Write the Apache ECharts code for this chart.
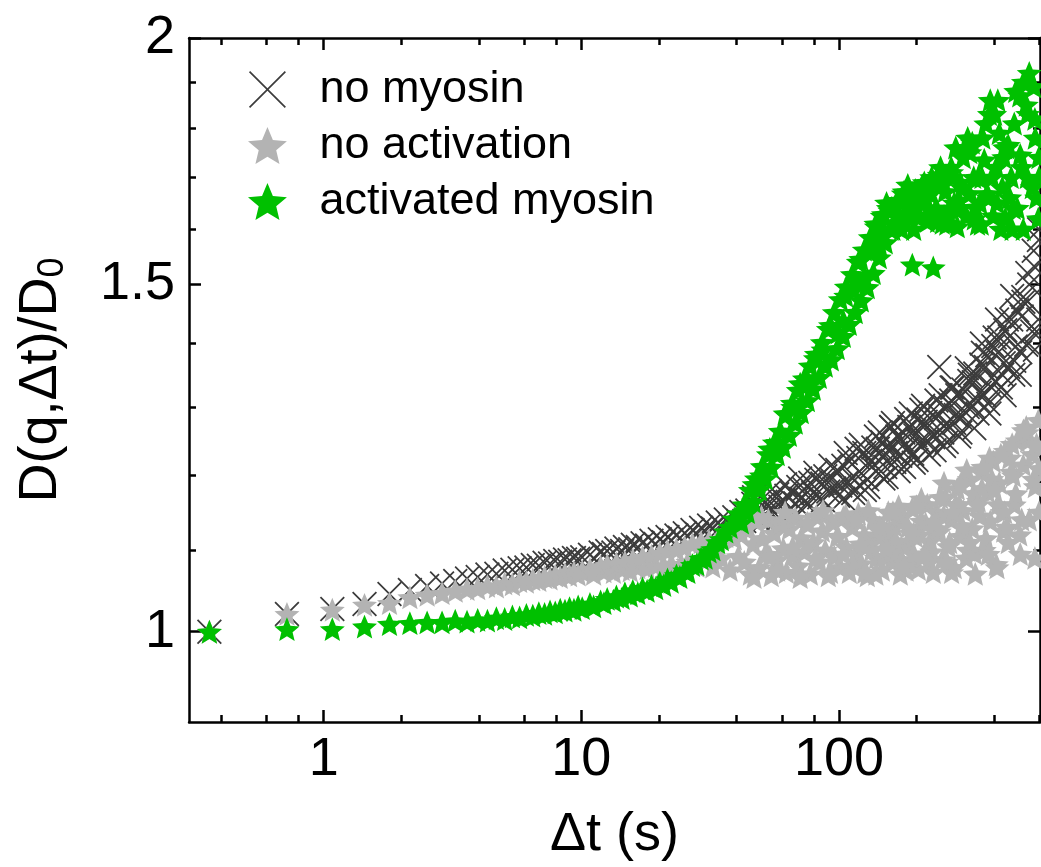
<!DOCTYPE html>
<html>
<head>
<meta charset="utf-8">
<script src="https://cdn.jsdelivr.net/npm/echarts@6/dist/echarts.min.js"></script>
<style>
  html, body { margin: 0; padding: 0; background: #fff; }
  #chart { width: 1041px; height: 867px; }
</style>
</head>
<body>
<div id="chart"></div>
<script>
// ---- Data ----
// Lag times Δt (s): early lags, mid lags, late lags, extra late samples (cloud), extra fill samples
const deltaT = [
  // early
  0.36,0.72,1.08,1.44,1.8,2.16,2.52,2.88,3.24,3.6,3.96,4.32,4.68,5.04,5.4,5.76,6.12,6.48,6.84,7.2,7.56,7.92,8.28,8.64,9.0,9.36,9.72,10.08,
  // mid
  10.8,11.16,11.88,12.24,12.6,13.32,13.68,14.4,14.76,15.48,15.84,16.56,17.28,18.0,18.72,19.44,20.16,20.88,21.6,22.32,23.4,24.12,25.2,25.92,27.0,28.08,29.16,30.24,31.32,32.4,33.84,34.92,36.36,37.8,39.24,40.68,
  // late
  41.8,42.9,44.1,45.3,46.5,47.8,49.1,50.4,51.8,53.2,54.6,56.1,57.6,59.2,60.8,62.5,64.2,65.9,67.7,69.5,
  71.4,73.4,75.4,77.4,79.5,81.7,83.9,86.2,88.5,90.9,93.4,95.9,98.5,101.2,104.0,106.8,109.7,112.7,115.7,118.9,
  122.1,125.4,128.8,132.3,135.9,139.6,143.4,147.3,151.3,155.4,159.6,164.0,168.4,173.0,177.7,182.5,187.5,192.6,197.8,203.2,
  208.7,214.4,220.2,226.2,232.3,238.6,245.1,251.8,258.6,265.6,272.8,280.3,287.9,295.7,303.7,312.0,320.5,329.2,338.1,347.3,
  356.7,366.4,376.4,386.6,397.1,407.9,419.0,430.4,442.1,454.1,466.4,479.1,492.1,505.5,519.2,533.3,547.8,562.7,578.0,593.7,
  // cloud
  134,141.5,149,157.5,166,175,185,195,205.5,217,229,241.5,255,269,284,300,316,333.5,352,371.5,392,413.5,436,460,485.5,512,540,570,598,
  // fill
  43.5,46.8,50.0,53.9,57.8,61.8,66.1,70.7,75.7,81.0,86.7,92.7,99.2,106.2,113.6,121.5,130.0,139.1,148.8,159.2,
  170.4,182.3,195.1,208.8,223.4,239.0,255.7,273.6,292.8,313.3,335.2,358.7,383.8,410.7,439.4,470.2,503.1,538.3,576.0,597.0,
  // fill 2
  104,117,126,144,153,162,179,190,200,212,235,248,262,277,296,322,345,362,380,402,425,448,475,520,585
];

const noMyosin = [
  1.000,1.021,1.027,1.033,1.045,1.050,1.055,1.058,1.061,1.064,1.066,1.069,1.070,1.074,1.075,1.077,1.078,1.081,1.080,1.084,1.083,1.086,1.085,1.088,1.087,1.090,1.089,1.091,
  1.094,1.090,1.097,1.095,1.099,1.097,1.102,1.099,1.104,1.101,1.107,1.104,1.109,1.106,1.112,1.108,1.114,1.110,1.117,1.113,1.119,1.116,1.122,1.118,1.126,1.121,1.129,1.124,1.132,1.128,1.136,1.131,1.140,1.134,1.143,1.138,
  1.150,1.138,1.152,1.144,1.161,1.146,1.155,1.141,1.164,1.152,1.162,1.149,1.174,1.157,1.166,1.172,1.153,1.175,1.162,1.184,
  1.168,1.181,1.163,1.190,1.176,1.194,1.170,1.189,1.199,1.178,1.195,1.182,1.208,1.186,1.214,1.190,1.220,1.196,1.181,1.225,
  1.203,1.232,1.195,1.221,1.240,1.206,1.231,1.248,1.212,1.236,1.270,1.219,1.256,1.228,1.262,1.236,1.270,1.231,1.258,1.281,
  1.241,1.275,1.250,1.291,1.255,1.283,1.362,1.262,1.300,1.271,1.310,1.276,1.318,1.284,1.327,1.291,1.340,1.302,1.352,1.310,
  1.366,1.318,1.381,1.332,1.396,1.339,1.410,1.350,1.422,1.362,1.440,1.372,1.455,1.386,1.478,1.398,1.500,1.420,1.530,1.440,
  1.212,1.238,1.226,1.246,1.232,1.252,1.240,1.265,1.248,1.278,1.262,1.290,1.272,1.305,1.288,1.318,1.300,1.338,1.322,1.362,1.345,1.385,1.368,1.412,1.395,1.445,1.470,1.560,1.600,
  1.128,1.170,1.136,1.178,1.140,1.188,1.150,1.196,1.160,1.204,1.166,1.214,1.172,1.232,1.176,1.244,1.184,1.256,1.196,1.270,
  1.206,1.282,1.218,1.296,1.230,1.310,1.242,1.330,1.256,1.360,1.268,1.400,1.290,1.440,1.318,1.480,1.350,1.520,1.390,1.580,
  1.168,1.238,1.180,1.262,1.198,1.276,1.212,1.290,1.222,1.302,1.236,1.318,1.248,1.330,1.262,1.350,1.290,1.385,1.305,1.410,1.330,1.440,1.350,1.470,1.420
];

const noActivation = [
  1.000,1.021,1.026,1.032,1.034,1.041,1.044,1.046,1.049,1.051,1.052,1.055,1.054,1.058,1.057,1.061,1.060,1.063,1.062,1.066,1.064,1.068,1.066,1.070,1.068,1.072,1.069,1.073,
  1.076,1.070,1.079,1.073,1.081,1.072,1.083,1.076,1.085,1.074,1.088,1.078,1.091,1.077,1.093,1.080,1.096,1.079,1.099,1.082,1.101,1.078,1.104,1.085,1.108,1.080,1.110,1.087,1.112,1.079,1.114,1.090,1.118,1.075,1.115,1.092,
  1.120,1.085,1.132,1.070,1.108,1.138,1.078,1.115,1.095,1.140,1.068,1.122,1.088,1.135,1.102,1.072,1.128,1.093,1.142,1.080,
  1.116,1.098,1.136,1.070,1.110,1.145,1.085,1.125,1.100,1.068,1.138,1.092,1.118,1.078,1.143,1.104,1.072,1.130,1.095,1.148,
  1.083,1.120,1.068,1.108,1.140,1.090,1.126,1.075,1.112,1.150,1.086,1.132,1.098,1.070,1.145,1.106,1.082,1.155,1.118,1.076,
  1.138,1.095,1.160,1.112,1.072,1.150,1.124,1.088,1.170,1.105,1.140,1.078,1.182,1.118,1.152,1.090,1.195,1.128,1.070,1.165,
  1.205,1.100,1.178,1.138,1.220,1.082,1.190,1.150,1.235,1.110,1.205,1.160,1.250,1.095,1.215,1.270,1.140,1.230,1.185,1.280,
  1.100,1.118,1.092,1.125,1.112,1.088,1.130,1.095,1.120,1.135,1.098,1.128,1.145,1.110,1.160,1.132,1.100,1.175,1.145,1.115,1.195,1.160,1.125,1.225,1.175,1.140,1.250,1.195,1.150,
  1.128,1.066,1.144,1.092,1.075,1.150,1.104,1.066,1.134,1.090,1.152,1.072,1.118,1.146,1.080,1.108,1.152,1.070,1.128,1.096,
  1.158,1.075,1.122,1.168,1.085,1.138,1.190,1.072,1.160,1.208,1.096,1.182,1.225,1.078,1.150,1.245,1.120,1.262,1.090,1.210,
  1.095,1.140,1.072,1.130,1.102,1.150,1.080,1.122,1.158,1.092,1.135,1.170,1.085,1.150,1.188,1.110,1.160,1.212,1.095,1.180,1.230,1.130,1.200,1.265,1.245
];

const activatedMyosin = [
  1.000,1.003,1.003,1.006,1.009,1.010,1.011,1.011,1.013,1.012,1.014,1.013,1.016,1.015,1.018,1.017,1.020,1.019,1.022,1.021,1.024,1.023,1.026,1.025,1.028,1.026,1.030,1.028,
  1.033,1.030,1.036,1.034,1.039,1.037,1.042,1.040,1.046,1.043,1.049,1.046,1.052,1.049,1.055,1.052,1.059,1.056,1.063,1.060,1.068,1.066,1.074,1.072,1.081,1.082,1.089,1.090,1.098,1.101,1.110,1.114,1.124,1.130,1.141,1.148,
  1.136,1.160,1.150,1.180,1.164,1.196,1.181,1.213,1.196,1.230,1.212,1.247,1.230,1.264,1.241,1.289,1.258,1.306,1.276,1.326,
  1.292,1.344,1.310,1.364,1.328,1.383,1.346,1.402,1.364,1.424,1.374,1.452,1.392,1.474,1.412,1.496,1.432,1.518,1.452,1.540,
  1.472,1.562,1.495,1.585,1.520,1.605,1.548,1.625,1.575,1.640,1.640,1.612,1.655,1.620,1.668,1.628,1.660,1.535,1.675,1.622,
  1.650,1.690,1.615,1.668,1.530,1.640,1.705,1.612,1.672,1.632,1.720,1.650,1.605,1.690,1.740,1.625,1.668,1.770,1.642,1.700,
  1.610,1.735,1.668,1.860,1.625,1.720,1.790,1.680,1.620,1.765,1.700,1.810,1.640,1.745,1.600,1.850,1.920,1.680,1.780,1.620,
  1.560,1.585,1.590,1.635,1.645,1.600,1.685,1.645,1.625,1.660,1.700,1.615,1.690,1.640,1.760,1.680,1.780,1.700,1.650,1.810,1.700,1.860,1.740,1.660,1.880,1.720,1.830,1.890,1.700,
  1.152,1.188,1.200,1.238,1.248,1.290,1.300,1.336,1.340,1.376,1.390,1.430,1.418,1.480,1.490,1.545,1.560,1.610,1.628,1.600,
  1.655,1.630,1.600,1.680,1.640,1.690,1.625,1.710,1.655,1.760,1.620,1.700,1.830,1.650,1.760,1.600,1.870,1.700,1.820,1.740,
  1.438,1.505,1.512,1.570,1.650,1.600,1.672,1.620,1.660,1.685,1.630,1.720,1.610,1.700,1.640,1.750,1.610,1.780,1.660,1.830,1.600,1.760,1.640,1.900,1.660
];

const seriesNames = ['no myosin', 'no activation', 'activated myosin'];
const xMajorTicks = [1, 10, 100];
const xMinorTicks = [0.4, 0.6, 0.8, 2, 4, 6, 8, 20, 40, 60, 80, 200, 400, 600];
const yMajorTicks = [1, 1.5, 2];
const yMinorTicks = [1.1, 1.2, 1.3, 1.4, 1.6, 1.7, 1.8, 1.9];

// ---- Styling ----
const FONT = '"Liberation Sans", Arial, Helvetica, sans-serif';
const X_PATH = 'path://M5,0L50,45L95,0L100,5L55,50L100,95L95,100L50,55L5,100L0,95L45,50L0,5Z';
const X_THIN = 'path://M3.2,0L50,46.8L96.8,0L100,3.2L53.2,50L100,96.8L96.8,100L50,53.2L3.2,100L0,96.8L46.8,50L0,3.2Z';
const STAR = 'path://M50,0L63.23,31.8L97.55,34.55L71.4,56.95L79.39,90.45L50,72.5L20.61,90.45L28.6,56.95L2.45,34.55L36.77,31.8Z';
const X_MIN = 0.3, X_MAX = 603, Y_MIN = 0.9, Y_MAX = 2;

function pairs(ys) { return deltaT.map((t, i) => [t, ys[i]]); }

function xAx(position, major, withLabels) {
  const ax = {
    type: 'log', logBase: 10, position: position, min: X_MIN, max: X_MAX,
    axisLine: { show: major, onZero: false, lineStyle: { color: '#000', width: 2.5 } },
    axisTick: { show: true, inside: true, length: major ? 12 : 7,
      customValues: major ? xMajorTicks : xMinorTicks,
      lineStyle: { color: '#000', width: 2.5 } },
    axisLabel: { show: false },
    splitLine: { show: false }
  };
  if (withLabels) {
    ax.axisLabel = { show: true, customValues: xMajorTicks, fontSize: 54, color: '#000',
      fontFamily: FONT, margin: 11, formatter: v => String(v) };
    ax.name = 'Δt (s)';
    ax.nameLocation = 'middle';
    ax.nameGap = 86;
    ax.nameTextStyle = { fontSize: 54, color: '#000', fontFamily: FONT };
  }
  return ax;
}

function yAx(position, major, withLabels) {
  const ax = {
    type: 'log', logBase: 10, position: position, min: Y_MIN, max: Y_MAX,
    axisLine: { show: major, onZero: false, lineStyle: { color: '#000', width: 2.5 } },
    axisTick: { show: true, inside: true, length: major ? 12 : 7,
      customValues: major ? yMajorTicks : yMinorTicks,
      lineStyle: { color: '#000', width: 2.5 } },
    axisLabel: { show: false },
    splitLine: { show: false }
  };
  if (withLabels) {
    ax.axisLabel = { show: true, customValues: yMajorTicks, fontSize: 54, color: '#000',
      fontFamily: FONT, margin: 14, formatter: v => String(v) };
    ax.name = 'D(q,Δt)/D{sub|0}';
    ax.nameLocation = 'middle';
    ax.nameGap = 118;
    ax.nameTextStyle = { fontSize: 54, color: '#000', fontFamily: FONT, lineHeight: 60,
      rich: { sub: { fontSize: 36, fontFamily: FONT, color: '#000', verticalAlign: 'bottom', lineHeight: 30 } } };
  }
  return ax;
}

const chart = echarts.init(document.getElementById('chart'), null, { renderer: 'canvas' });
chart.setOption({
  animation: false,
  backgroundColor: '#fff',
  grid: { left: 189, right: 1, top: 38, bottom: 142, containLabel: false },
  legend: {
    orient: 'vertical', left: 243, top: 62,
    itemWidth: 94, itemHeight: 37, itemGap: 11,
    symbolKeepAspect: true,
    textStyle: { fontSize: 45, color: '#000', fontFamily: FONT, lineHeight: 45 },
    data: [
      { name: seriesNames[0], icon: X_THIN },
      { name: seriesNames[1], icon: STAR },
      { name: seriesNames[2], icon: STAR }
    ]
  },
  xAxis: [ xAx('bottom', true, true), xAx('bottom', false, false), xAx('top', true, false), xAx('top', false, false) ],
  yAxis: [ yAx('left', true, true), yAx('left', false, false), yAx('right', true, false), yAx('right', false, false) ],
  series: [
    { name: seriesNames[0], type: 'scatter', xAxisIndex: 0, yAxisIndex: 0,
      symbol: X_PATH, symbolSize: 25, symbolKeepAspect: true,
      itemStyle: { color: '#3c3c3c', opacity: 1 }, data: pairs(noMyosin) },
    { name: seriesNames[1], type: 'scatter', xAxisIndex: 0, yAxisIndex: 0,
      symbol: STAR, symbolSize: 25, symbolKeepAspect: true,
      itemStyle: { color: '#b3b3b3', opacity: 1 }, data: pairs(noActivation) },
    { name: seriesNames[2], type: 'scatter', xAxisIndex: 0, yAxisIndex: 0,
      symbol: STAR, symbolSize: 25, symbolKeepAspect: true,
      itemStyle: { color: '#00c000', opacity: 1 }, data: pairs(activatedMyosin) }
  ]
});
</script>
</body>
</html>
